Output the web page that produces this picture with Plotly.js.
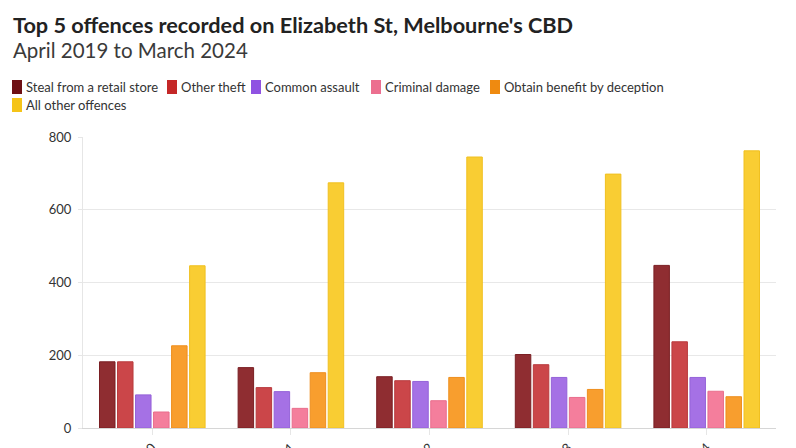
<!DOCTYPE html>
<html><head><meta charset="utf-8">
<script src="https://cdn.plot.ly/plotly-3.0.1.min.js"></script>
<style>html,body{margin:0;padding:0;background:#fff;}#chart{width:796px;height:448px;}</style>
</head><body><div id="chart"></div>
<script>
const years = ["2019-20", "2020-21", "2021-22", "2022-23", "2023-24"];
const offences = ["Steal from a retail store", "Other theft", "Common assault", "Criminal damage", "Obtain benefit by deception", "All other offences"];
const stealRetail = [182, 166, 141, 202, 447];
const otherTheft = [182, 111, 130, 174, 237];
const commonAssault = [91, 100, 128, 139, 139];
const criminalDamage = [44, 54, 75, 84, 101];
const deception = [226, 152, 139, 106, 86];
const allOther = [446, 674, 745, 698, 762];
const yTicks = [0, 200, 400, 600, 800];

const series = [stealRetail, otherTheft, commonAssault, criminalDamage, deception, allOther];
const barColors = ["#8f2d31", "#cb4649", "#a571e5", "#f47e9c", "#f89e2e", "#f9cd33"];
const lineColors = ["#7a1f23", "#b83a3d", "#9462d8", "#e96d8c", "#ee8f1e", "#f0c020"];
const swatchColors = ["#6e1014", "#c42828", "#8f52e2", "#ec6f8f", "#ef8a10", "#f5c418"];

const FONT = "Source Sans Pro, Lato, 'Noto Sans', sans-serif";

const traces = series.map((vals, i) => ({
  type: "bar", name: offences[i], x: years, y: vals,
  marker: {color: barColors[i], line: {color: lineColors[i], width: 1}},
  showlegend: false, hoverinfo: "x+y+name"
}));

const layout = {
  width: 796, height: 448,
  margin: {l: 83, r: 20, t: 137, b: 20},
  paper_bgcolor: "#fff", plot_bgcolor: "#fff",
  font: {family: FONT, color: "#333", size: 12},
  barmode: "group", bargap: 0.22, bargroupgap: 0.14,
  showlegend: false,
  xaxis: {type: "category", tickangle: -45, automargin: false, showgrid: false,
    showline: true, linecolor: "#d6d6d6", linewidth: 1, ticks: "outside", ticklen: 6, tickcolor: "#e6e6e6",
    tickfont: {family: FONT, size: 13, color: "#333"}, zeroline: false},
  yaxis: {range: [0, 800], tickvals: yTicks, automargin: false, showgrid: true, gridcolor: "#e8e8e8",
    showline: true, linecolor: "#e6e6e6", zeroline: false, ticks: "outside", ticklen: 4, tickcolor: "#e6e6e6",
    tickfont: {family: FONT, size: 13, color: "#333"}, ticklabelstandoff: 4, fixedrange: true},
  annotations: [],
  shapes: []
};

const pw = 796 - 83 - 20, ph = 448 - 137 - 20;
const px = (v) => (v - 83) / pw;
const py = (v) => (448 - 20 - v) / ph;

// title and subtitle
layout.annotations.push({xref: "paper", yref: "paper", x: px(11), y: py(25), xanchor: "left", yanchor: "middle",
  showarrow: false, text: "<b>Top 5 offences recorded on Elizabeth St, Melbourne's CBD</b>",
  font: {family: FONT, size: 21.7, color: "#222"}});
layout.annotations.push({xref: "paper", yref: "paper", x: px(11), y: py(50), xanchor: "left", yanchor: "middle",
  showarrow: false, text: "April 2019 to March 2024",
  font: {family: FONT, size: 20.5, color: "#3a3a3a"}});

// custom legend (swatches + labels) built from the offences list
const legendPos = [[12, 87], [167, 87], [251, 87], [371, 87], [490, 87], [12, 105]];
offences.forEach((name, i) => {
  const [lx, ly] = legendPos[i];
  layout.shapes.push({type: "rect", xref: "paper", yref: "paper",
    x0: px(lx), x1: px(lx + 10), y0: py(ly + 7), y1: py(ly - 7),
    line: {width: 0}, fillcolor: swatchColors[i], layer: "above"});
  layout.annotations.push({xref: "paper", yref: "paper", x: px(lx + 12), y: py(ly), xanchor: "left", yanchor: "middle",
    showarrow: false, text: name, font: {family: FONT, size: 13, color: "#333"}});
});

Plotly.newPlot("chart", traces, layout, {displayModeBar: false});
</script></body></html>
